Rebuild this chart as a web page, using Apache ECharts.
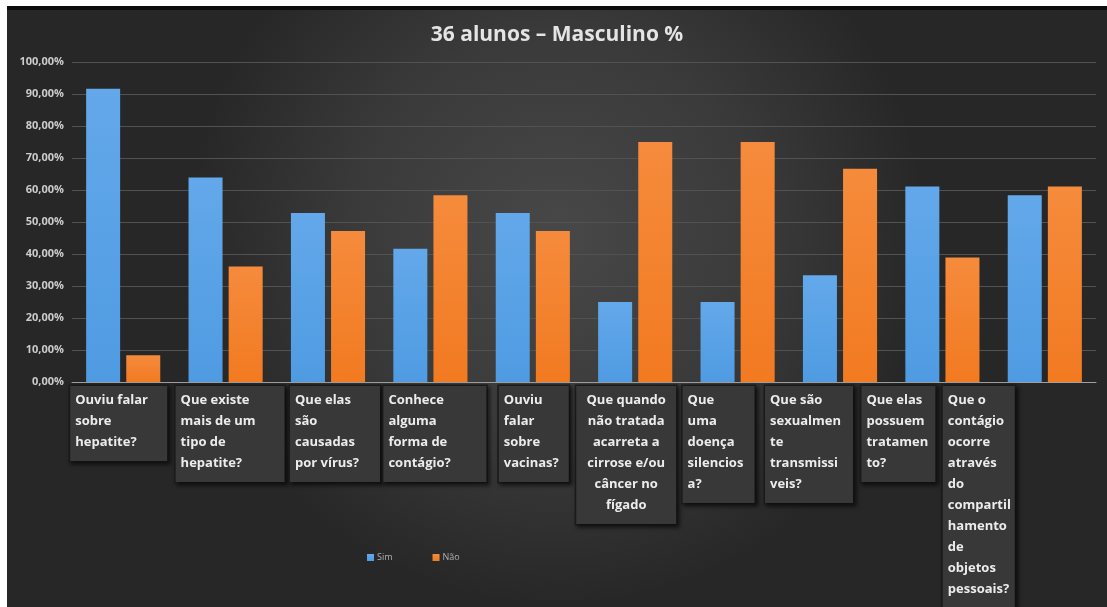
<!DOCTYPE html>
<html>
<head>
<meta charset="utf-8">
<script src="https://cdn.jsdelivr.net/npm/echarts@6/dist/echarts.min.js"></script>
<style>
  html, body { margin: 0; padding: 0; background: #ffffff; }
  #chart {
    position: absolute; left: 7px; top: 6px;
    width: 1100px; height: 597px;
    border-top: 4px solid #0d0d0d;
  }
</style>
</head>
<body>
<div id="chart"></div>
<script>
// Perguntas do questionário (quebras de linha como nas caixas de rótulo)
const categorias = [
  'Ouviu falar\nsobre\nhepatite?',
  'Que existe\nmais de um\ntipo de\nhepatite?',
  'Que elas\nsão\ncausadas\npor vírus?',
  'Conhece\nalguma\nforma de\ncontágio?',
  'Ouviu\nfalar\nsobre\nvacinas?',
  'Que quando\nnão tratada\nacarreta a\ncirrose e/ou\ncâncer no\nfígado',
  'Que\numa\ndoença\nsilencios\na?',
  'Que são\nsexualmen\nte\ntransmissi\nveis?',
  'Que elas\npossuem\ntratamen\nto?',
  'Que o\ncontágio\nocorre\natravés\ndo\ncompartil\nhamento\nde\nobjetos\npessoais?'
];

// Percentuais de respostas (36 alunos, sexo masculino)
const sim = [91.67, 63.89, 52.78, 41.67, 52.78, 25.00, 25.00, 33.33, 61.11, 58.33];
const nao = [8.33, 36.11, 47.22, 58.33, 47.22, 75.00, 75.00, 66.67, 38.89, 61.11];

const seriesNomes = ['Sim', 'Não'];
const titulo = '36 alunos – Masculino %';

// Caixas dos rótulos: deslocamento da borda esquerda em relação ao centro da categoria, largura, alinhamento
const caixas = [
  { dx: -53, w: 97,  align: 'left' },
  { dx: -50, w: 109, align: 'left' },
  { dx: -38, w: 90,  align: 'left' },
  { dx: -47, w: 103, align: 'left' },
  { dx: -34, w: 70,  align: 'left' },
  { dx: -59, w: 100, align: 'center' },
  { dx: -55, w: 72,  align: 'left' },
  { dx: -75, w: 88,  align: 'left' },
  { dx: -81, w: 74,  align: 'left' },
  { dx: -102, w: 72, align: 'left' }
];

const chart = echarts.init(document.getElementById('chart'));

const fmtPct = v => v.toFixed(2).replace('.', ',') + '%';

chart.setOption({
  animation: false,
  backgroundColor: new echarts.graphic.RadialGradient(0.5, 0.38, 0.62, [
    { offset: 0, color: '#484848' },
    { offset: 0.55, color: '#3a3a3a' },
    { offset: 1, color: '#272727' }
  ]),
  title: {
    text: titulo,
    left: 'center',
    top: 10,
    textStyle: {
      fontFamily: 'Open Sans',
      fontWeight: 'bold',
      fontSize: 21,
      color: '#e4e4e4'
    }
  },
  legend: {
    data: seriesNomes,
    left: 355,
    top: 538,
    itemWidth: 7,
    itemHeight: 7,
    itemGap: 40,
    icon: 'rect',
    textStyle: { color: '#b0b0b0', fontSize: 9, fontFamily: 'Open Sans', padding: [0, 0, 0, -2] }
  },
  grid: { left: 65, right: 11, top: 52, bottom: 225, containLabel: false },
  xAxis: {
    type: 'category',
    data: categorias,
    axisLine: { lineStyle: { color: '#a0a0a0', width: 1 } },
    axisTick: { show: false },
    axisLabel: { show: false },
    splitLine: { show: false }
  },
  yAxis: {
    type: 'value',
    min: 0,
    max: 100,
    interval: 10,
    axisLine: { show: false },
    axisTick: { show: false },
    axisLabel: {
      formatter: fmtPct,
      color: '#cccccc',
      fontFamily: 'Open Sans',
      fontWeight: 'bold',
      fontSize: 11,
      margin: 8
    },
    splitLine: { lineStyle: { color: '#525252', width: 1 } }
  },
  series: [
    {
      name: seriesNomes[0],
      type: 'bar',
      data: sim,
      barWidth: 34,
      barGap: '18%',
      itemStyle: {
        color: new echarts.graphic.LinearGradient(0, 0, 0, 1, [
          { offset: 0, color: '#63a8ea' },
          { offset: 1, color: '#4f9be2' }
        ]),
        shadowColor: 'rgba(0,0,0,0.45)',
        shadowBlur: 4,
        shadowOffsetX: 1
      }
    },
    {
      name: seriesNomes[1],
      type: 'bar',
      data: nao,
      barWidth: 34,
      itemStyle: {
        color: new echarts.graphic.LinearGradient(0, 0, 0, 1, [
          { offset: 0, color: '#f58b3c' },
          { offset: 1, color: '#f27a21' }
        ]),
        shadowColor: 'rgba(0,0,0,0.45)',
        shadowBlur: 4,
        shadowOffsetX: 1
      }
    }
  ]
});

// Caixas de texto das perguntas, posicionadas a partir da escala do eixo de categorias
function desenharCaixas() {
  const y0 = chart.convertToPixel({ yAxisIndex: 0 }, 0);
  const padX = 5;
  const elementos = categorias.map((txt, i) => {
    const cx = chart.convertToPixel({ xAxisIndex: 0 }, i);
    const c = caixas[i];
    const left = cx + c.dx;
    const innerW = c.w - 2 * padX;
    return {
      type: 'text',
      x: c.align === 'center' ? left + c.w / 2 : left,
      y: y0 + 4,
      z: 10,
      style: {
        text: txt,
        font: 'bold 13px "Open Sans"',
        fill: '#ececec',
        align: c.align,
        verticalAlign: 'top',
        lineHeight: 21,
        width: innerW,
        backgroundColor: '#383838',
        borderColor: '#1c1c1c',
        borderWidth: 1.5,
        padding: [4, padX, 8, padX],
        shadowColor: 'rgba(0,0,0,0.55)',
        shadowBlur: 4,
        shadowOffsetX: 2,
        shadowOffsetY: 2
      }
    };
  });
  chart.setOption({ graphic: elementos });
}
desenharCaixas();
</script>
</body>
</html>
